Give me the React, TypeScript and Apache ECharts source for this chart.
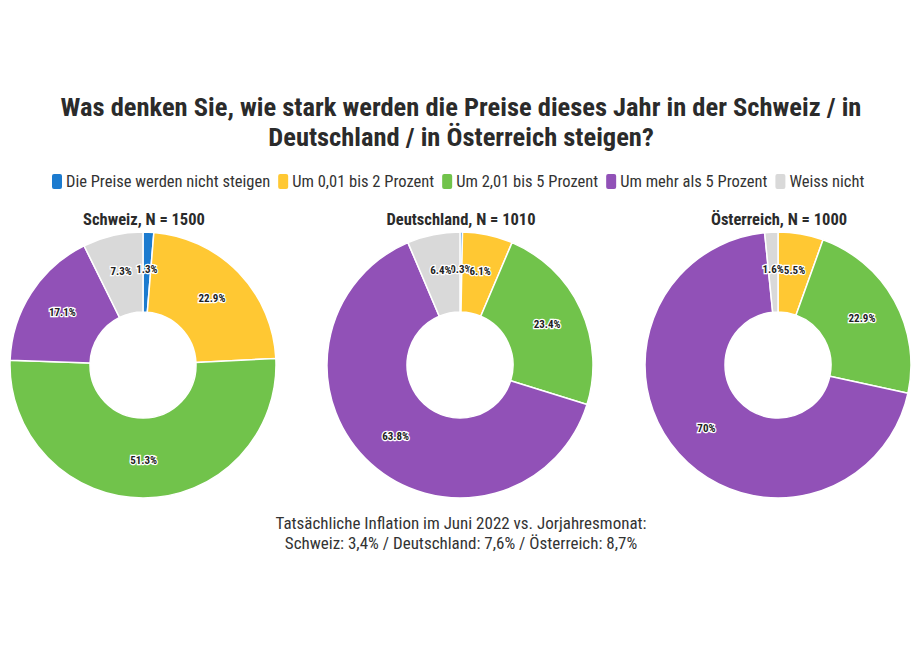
import React, { useEffect, useRef } from "react";
import * as echarts from "echarts";

const categories = [
  "Die Preise werden nicht steigen",
  "Um 0,01 bis 2 Prozent",
  "Um 2,01 bis 5 Prozent",
  "Um mehr als 5 Prozent",
  "Weiss nicht",
];
const colors = ["#1c7bcf", "#ffc833", "#71c34b", "#9151b7", "#d9d9d9"];
const countries = ["Schweiz, N = 1500", "Deutschland, N = 1010", "Österreich, N = 1000"];
const schweiz = [1.3, 22.9, 51.3, 17.1, 7.3];
const deutschland = [0.3, 6.1, 23.4, 63.8, 6.4];
const oesterreich = [0, 5.5, 22.9, 70, 1.6];
const seriesValues = [schweiz, deutschland, oesterreich];

const FONT = "'Roboto Condensed', 'Liberation Sans Narrow', Roboto, sans-serif";

export default function App() {
  const ref = useRef<HTMLDivElement>(null);
  useEffect(() => {
    if (!ref.current) return;
    const chart = echarts.init(ref.current, null, { renderer: "svg" });
    const centersX = [143, 460, 778];
    const option: any = {
      animation: false,
      color: colors,
      textStyle: { fontFamily: FONT },
      title: [
        {
          text: "Was denken Sie, wie stark werden die Preise dieses Jahr in der Schweiz / in\nDeutschland / in Österreich steigen?",
          left: 456,
          top: 86,
          textAlign: "center",
          textStyle: { fontFamily: FONT, fontSize: 26.5, fontWeight: "bold", color: "#2b2b2b", lineHeight: 30 },
        },
        ...countries.map((c, i) => ({
          text: c,
          left: centersX[i] - 4,
          top: 206,
          textAlign: "center",
          textStyle: { fontFamily: FONT, fontSize: 16.5, fontWeight: "bold", color: "#2b2b2b" },
        })),
        {
          text: "Tatsächliche Inflation im Juni 2022 vs. Jorjahresmonat:\nSchweiz: 3,4% / Deutschland: 7,6% / Österreich: 8,7%",
          left: 456,
          top: 508,
          textAlign: "center",
          textStyle: { fontFamily: FONT, fontSize: 17, fontWeight: "normal", color: "#333", lineHeight: 20 },
        },
      ],
      legend: {
        top: 167,
        left: 45,
        itemWidth: 12,
        itemHeight: 17,
        itemGap: 6,
        icon: "roundRect",
        textStyle: { fontFamily: FONT, fontSize: 16.5, color: "#333", padding: [0, 0, 0, -2] },
        data: categories,
      },
      series: seriesValues.map((vals, i) => ({
        type: "pie",
        center: [centersX[i], 365],
        radius: [53, 133],
        startAngle: 90,
        clockwise: true,
        avoidLabelOverlap: false,
        minShowLabelAngle: 0,
        labelLayout: { hideOverlap: false },
        itemStyle: { borderColor: "#fff", borderWidth: 1.5 },
        label: {
          show: true,
          position: "inside",
          formatter: (p: any) => (p.value > 0 ? p.value + "%" : ""),
          fontFamily: FONT,
          fontSize: 11,
          fontWeight: "bold",
          color: "#222",
          textBorderColor: "#fff",
          textBorderWidth: 2.5,
        },
        labelLine: { show: false },
        emphasis: { disabled: true },
        data: categories.map((name, j) => ({ name, value: vals[j] })),
      })),
    };
    chart.setOption(option);
    return () => chart.dispose();
  }, []);
  return (
    <div
      ref={ref}
      style={{ position: "fixed", left: 0, top: 0, width: 923, height: 661, background: "#fff" }}
    />
  );
}
